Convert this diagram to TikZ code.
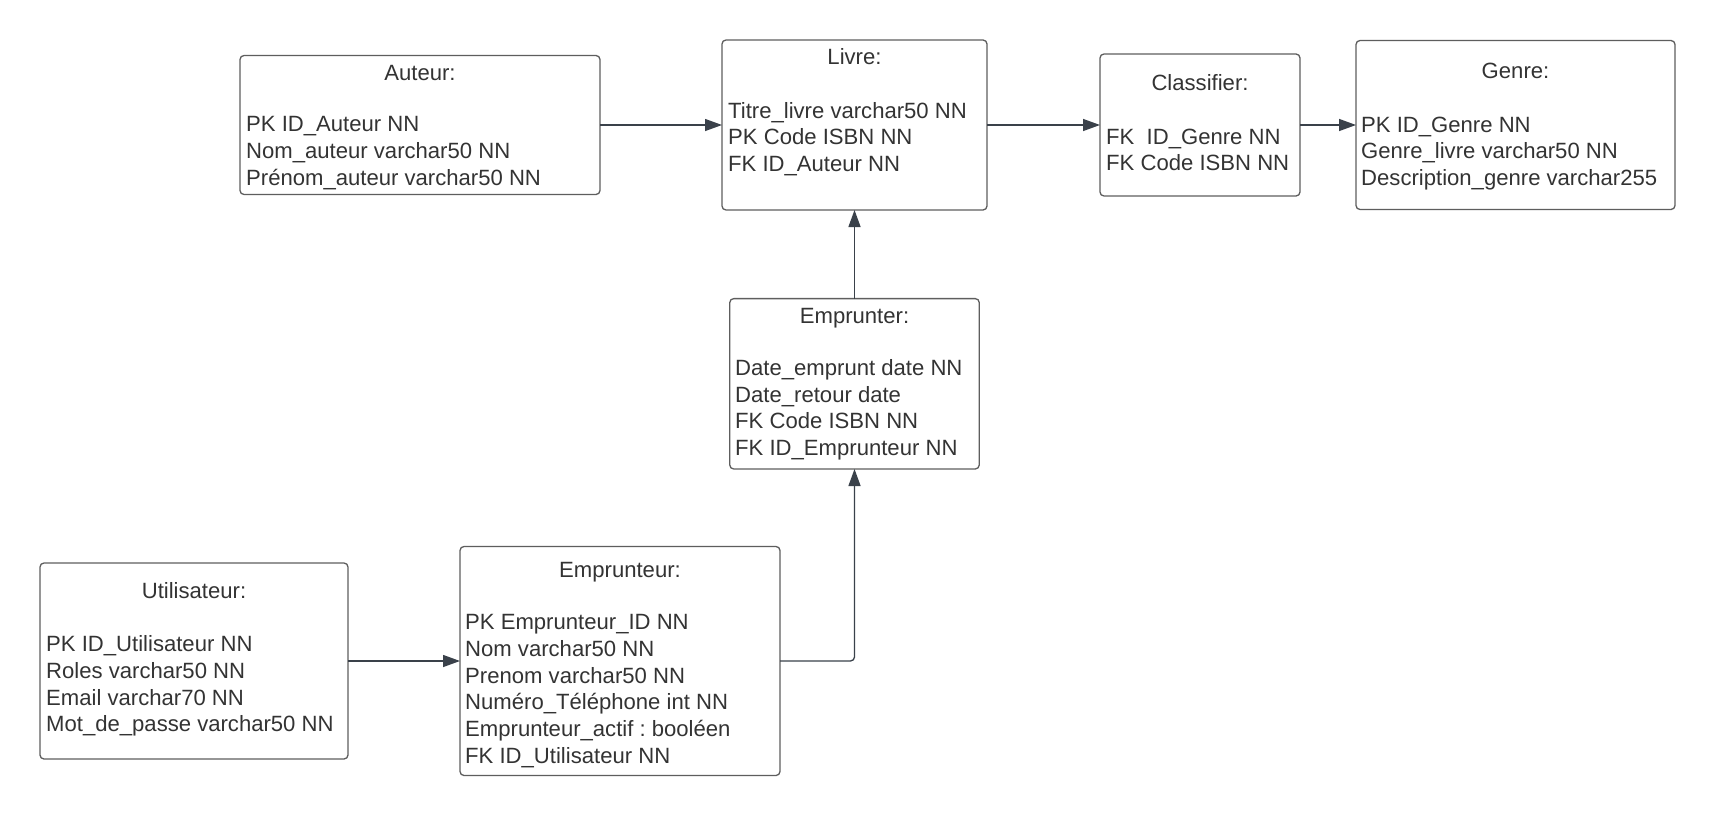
\documentclass[tikz,border=0pt]{standalone}
\usepackage{fontspec}
\setmainfont{Liberation Sans}
\usetikzlibrary{arrows.meta}
\frenchspacing
\definecolor{txt}{HTML}{333333}
\definecolor{edgec}{HTML}{5E5E5E}
\definecolor{conn}{HTML}{3A414A}
\begin{document}
\begin{tikzpicture}[x=1pt,y=-1pt,
  entity/.style={draw=edgec, line width=1.3pt, rounded corners=4pt, inner sep=0pt, outer sep=0pt, fill=white},
  ttl/.style={text=txt, font=\fontsize{22.1}{26.5}\selectfont, inner sep=0pt, anchor=base},
  attr/.style={text=txt, font=\fontsize{22.1}{26.5}\selectfont, inner sep=0pt, anchor=base west},
  link/.style={draw=conn, line width=1.3pt, -{Triangle[length=17pt,width=12pt]}}]
\useasboundingbox[fill=white] (0,0) rectangle (1715,816);

% Auteur
\node[entity, minimum width=360pt, minimum height=139pt] (auteur) at (420,125) {};
\node[ttl] (auteurT) at (420,80) {Auteur:};
\node[attr] (auteur1) at (246,131) {PK ID\_Auteur NN};
\node[attr] (auteur2) at (246,158) {Nom\_auteur varchar50 NN};
\node[attr] (auteur3) at (246,185) {Prénom\_auteur varchar50 NN};

% Livre
\node[entity, minimum width=265pt, minimum height=170pt] (livre) at (854.5,125) {};
\node[ttl] (livreT) at (854.5,64) {Livre:};
\node[attr] (livre1) at (728,118) {Titre\_livre varchar50 NN};
\node[attr] (livre2) at (728,144) {PK Code ISBN NN};
\node[attr] (livre3) at (728,171) {FK ID\_Auteur NN};

% Classifier
\node[entity, minimum width=200pt, minimum height=142pt] (classifier) at (1200,125) {};
\node[ttl] (classifierT) at (1200,90) {Classifier:};
\node[attr] (classifier1) at (1106,144) {FK\ \ ID\_Genre NN};
\node[attr] (classifier2) at (1106,170) {FK Code ISBN NN};

% Genre
\node[entity, minimum width=319pt, minimum height=169pt] (genre) at (1515.5,125) {};
\node[ttl] (genreT) at (1515.5,78) {Genre:};
\node[attr] (genre1) at (1361,132) {PK ID\_Genre NN};
\node[attr] (genre2) at (1361,158) {Genre\_livre varchar50 NN};
\node[attr] (genre3) at (1361,185) {Description\_genre varchar255};

% Emprunter
\node[entity, minimum width=249.5pt, minimum height=170.4pt] (emprunter) at (854.5,383.8) {};
\node[ttl] (emprunterT) at (854.5,323) {Emprunter:};
\node[attr] (emprunter1) at (735,375.6) {Date\_emprunt date NN};
\node[attr] (emprunter2) at (735,402) {Date\_retour date};
\node[attr] (emprunter3) at (735,428) {FK Code ISBN NN};
\node[attr] (emprunter4) at (735,455.5) {FK ID\_Emprunteur NN};

% Emprunteur
\node[entity, minimum width=320pt, minimum height=229pt] (emprunteur) at (620,661) {};
\node[ttl] (emprunteurT) at (620,577) {Emprunteur:};
\node[attr] (emprunteur1) at (465,629.7) {PK Emprunteur\_ID NN};
\node[attr] (emprunteur2) at (465,656.3) {Nom varchar50 NN};
\node[attr] (emprunteur3) at (465,683) {Prenom varchar50 NN};
\node[attr] (emprunteur4) at (465,709.7) {Numéro\_Téléphone int NN};
\node[attr] (emprunteur5) at (465,736.3) {Emprunteur\_actif : booléen};
\node[attr] (emprunteur6) at (465,763) {FK ID\_Utilisateur NN};

% Utilisateur
\node[entity, minimum width=308pt, minimum height=196pt] (utilisateur) at (194,661) {};
\node[ttl] (utilisateurT) at (194,598) {Utilisateur:};
\node[attr] (utilisateur1) at (46,651) {PK ID\_Utilisateur NN};
\node[attr] (utilisateur2) at (46,678) {Roles varchar50 NN};
\node[attr] (utilisateur3) at (46,705) {Email varchar70 NN};
\node[attr] (utilisateur4) at (46,731) {Mot\_de\_passe varchar50 NN};

% connectors
\draw[link] (auteur.east) -- (livre.west);
\draw[link] (livre.east) -- (classifier.west);
\draw[link] (classifier.east) -- (genre.west);
\draw[link] (emprunter.north) -- (livre.south);
\draw[link, rounded corners=4pt] (emprunteur.east) -| (emprunter.south);
\draw[link] (utilisateur.east) -- (emprunteur.west);
\end{tikzpicture}
\end{document}
